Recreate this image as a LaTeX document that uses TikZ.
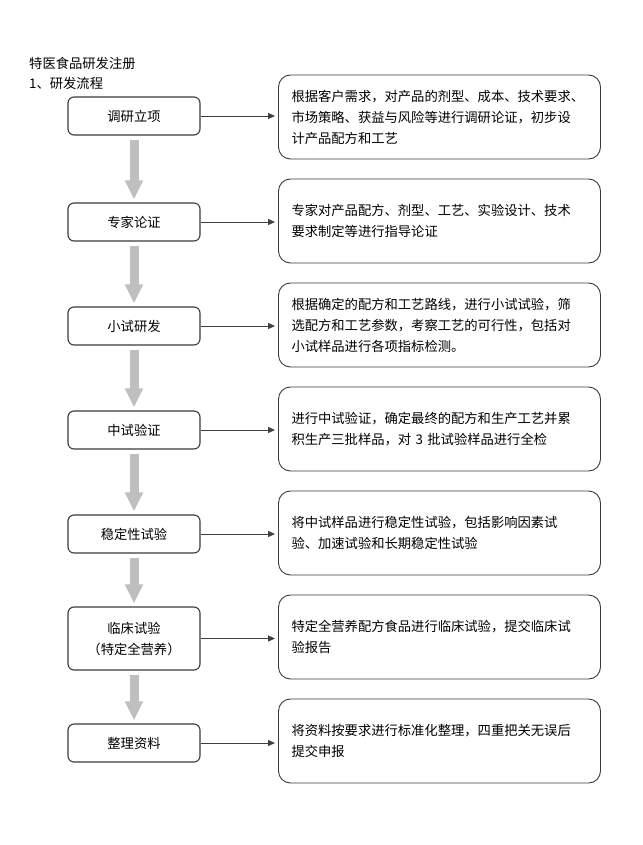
\documentclass[tikz,border=0pt]{standalone}
\usepackage{fontspec}
\setmainfont{Noto Sans CJK SC}
\usepackage{tikz}
\usetikzlibrary{arrows.meta, positioning}
\usepackage{xcolor}
\definecolor{shaftgray}{HTML}{BFBFBF}
\definecolor{edgegray}{HTML}{3A3A3A}
\newcommand{\cjksize}{\fontsize{13.3pt}{21pt}\selectfont}
\tikzset{
    heading/.style={anchor=west, inner sep=0pt, font=\cjksize},
    stepbox/.style={draw=edgegray, line width=1.1pt, rounded corners=6pt, fill=white,
        minimum width=132pt, minimum height=38pt, inner sep=0pt, align=center, font=\cjksize},
    notebox/.style={draw=edgegray, line width=0.9pt, rounded corners=12pt, fill=white,
        text width=296pt, inner xsep=13pt, inner ysep=0pt, minimum height=84pt, align=left, font=\cjksize},
    flow/.style={draw=shaftgray, line width=9pt, -{Triangle[width=17pt, length=19pt]},
        shorten <=4pt, shorten >=3pt},
    link/.style={draw=black!75, line width=0.9pt, -{Triangle[width=6pt, length=7pt]}, shorten >=3pt}
}

\begin{document}
\begin{tikzpicture}[x=1pt, y=-1pt]
    % Frame
    \useasboundingbox (0,0) rectangle (642,845);
    % Columns
    \pgfmathsetmacro{\xstep}{134}
    \pgfmathsetmacro{\xnote}{439.5}

    % Title
    \node[heading] (Title) at (29,63) {特医食品研发注册};
    \node[heading] (Subtitle) at (29,83) {1、研发流程};

    % Steps
    \node[stepbox] (Survey) at (\xstep,116) {调研立项};
    \node[stepbox] (Expert) at (\xstep,222) {专家论证};
    \node[stepbox] (Small) at (\xstep,326) {小试研发};
    \node[stepbox] (Pilot) at (\xstep,430) {中试验证};
    \node[stepbox] (Stable) at (\xstep,534) {稳定性试验};
    \node[stepbox, minimum height=63pt] (Clinic) at (\xstep,638.5) {临床试验\\（特定全营养）};
    \node[stepbox] (Archive) at (\xstep,743) {整理资料};

    % Notes
    \node[notebox] (SurveyNote) at (\xnote,117) {根据客户需求，对产品的剂型、成本、技术要求、\\市场策略、获益与风险等进行调研论证，初步设\\计产品配方和工艺};
    \node[notebox] (ExpertNote) at (\xnote,221) {专家对产品配方、剂型、工艺、实验设计、技术\\要求制定等进行指导论证};
    \node[notebox] (SmallNote) at (\xnote,325) {根据确定的配方和工艺路线，进行小试试验，筛\\选配方和工艺参数，考察工艺的可行性，包括对\\小试样品进行各项指标检测。};
    \node[notebox] (PilotNote) at (\xnote,429) {进行中试验证，确定最终的配方和生产工艺并累\\积生产三批样品，对 3 批试验样品进行全检};
    \node[notebox] (StableNote) at (\xnote,533) {将中试样品进行稳定性试验，包括影响因素试\\验、加速试验和长期稳定性试验};
    \node[notebox] (ClinicNote) at (\xnote,637) {特定全营养配方食品进行临床试验，提交临床试\\验报告};
    \node[notebox] (ArchiveNote) at (\xnote,741) {将资料按要求进行标准化整理，四重把关无误后\\提交申报};

    % Flow arrows
    \draw[flow] (Survey) -- (Expert);
    \draw[flow] (Expert) -- (Small);
    \draw[flow] (Small) -- (Pilot);
    \draw[flow] (Pilot) -- (Stable);
    \draw[flow] (Stable) -- (Clinic);
    \draw[flow] (Clinic) -- (Archive);

    % Links to notes
    \draw[link] (Survey.east) -- (Survey.east -| SurveyNote.west);
    \draw[link] (Expert.east) -- (Expert.east -| ExpertNote.west);
    \draw[link] (Small.east) -- (Small.east -| SmallNote.west);
    \draw[link] (Pilot.east) -- (Pilot.east -| PilotNote.west);
    \draw[link] (Stable.east) -- (Stable.east -| StableNote.west);
    \draw[link] (Clinic.east) -- (Clinic.east -| ClinicNote.west);
    \draw[link] (Archive.east) -- (Archive.east -| ArchiveNote.west);
\end{tikzpicture}
\end{document}
